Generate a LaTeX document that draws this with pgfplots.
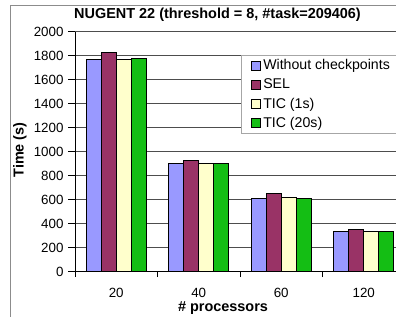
\documentclass[border=0pt]{standalone}
\usepackage{pgfplots}
\pgfplotsset{compat=1.18}
\usepackage{fontspec}
\setmainfont{Liberation Sans}
\definecolor{cA}{HTML}{9999FF}
\definecolor{cB}{HTML}{993366}
\definecolor{cC}{HTML}{FFFFCC}
\definecolor{cD}{HTML}{14BE14}
\definecolor{gridc}{HTML}{4D4D4D}
\begin{document}
\begin{tikzpicture}
\useasboundingbox (0,0) rectangle (396bp,317bp);
\begin{scope}
\clip (0,0) rectangle (396bp,317bp);
\fill[white] (0,0) rectangle (396bp,317bp);
\draw[color=gray!90,line width=1bp] (10.5bp,-5bp) |- (430bp,311.5bp);
\begin{axis}[
  at={(75bp,45bp)}, anchor=south west,
  scale only axis, width=330bp, height=240bp,
  xmin=-0.5, xmax=3.5, ymin=0, ymax=2000,
  ybar=0pt, bar width=15bp,
  axis x line*=bottom, axis y line*=left,
  axis line style={line width=1bp, black, -},
  ytick={0,200,...,2000},
  xtick={0,1,2,3}, xticklabels={20,40,60,120},
  major x tick style={draw=none},
  minor xtick={-0.5,0.5,1.5,2.5,3.5},
  minor x tick style={black, line width=1bp},
  minor tick length=5bp,
  major tick length=7bp,
  tick align=outside,
  y tick style={black, line width=1bp},
  ymajorgrids, major grid style={gridc, line width=1bp},
  /pgf/number format/assume math mode=true,
  /pgf/number format/1000 sep={},
  ticklabel style={font=\fontsize{13.4}{15}\selectfont},
  yticklabel style={xshift=-1bp},
  xticklabel style={yshift=-6bp},
  legend cell align=left,
  legend image code/.code={\draw[#1,draw=black,line width=0.8bp] (0bp,-4.5bp) rectangle (9bp,4.5bp);},
  legend style={at={(rel axis cs:0.503,0.906)}, anchor=north west,
    draw=gray!70, line width=1bp, fill=white,
    font=\fontsize{14.2}{16}\selectfont,
    inner xsep=10bp, inner ysep=2.5bp, row sep=3.6bp},
]
\addplot[fill=cA, draw=black, line width=1bp] coordinates {(0,1772) (1,905) (2,615) (3,340)};
\addplot[fill=cB, draw=black, line width=1bp] coordinates {(0,1825) (1,925) (2,650) (3,357)};
\addplot[fill=cC, draw=black, line width=1bp] coordinates {(0,1772) (1,905) (2,620) (3,340)};
\addplot[fill=cD, draw=black, line width=1bp] coordinates {(0,1775) (1,905) (2,615) (3,340)};
\legend{Without checkpoints, SEL, TIC (1s), TIC (20s)}
\end{axis}
\end{scope}
\node[font=\fontsize{14.5}{16}\bfseries] at (217.5bp,302bp) {NUGENT 22 (threshold = 8, \#task=209406)};
\node[font=\fontsize{14.5}{16}\bfseries] at (223bp,9bp) {\# processors};
\node[font=\fontsize{14.5}{16}\bfseries, rotate=90] at (20bp,167bp) {Time (s)};
\end{tikzpicture}
\end{document}
